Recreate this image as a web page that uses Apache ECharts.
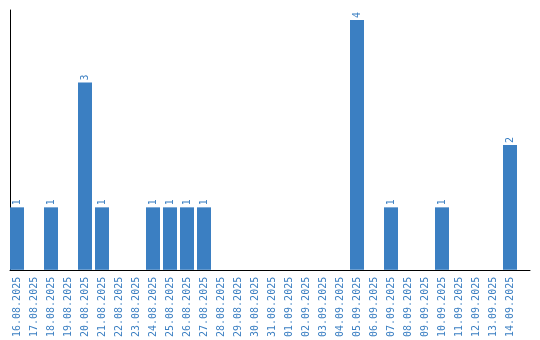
<!DOCTYPE html>
<html><head><meta charset="utf-8">
<script src="https://cdn.jsdelivr.net/npm/echarts@6/dist/echarts.min.js"></script>
<style>html,body{margin:0;padding:0;background:#fff}#c{width:540px;height:340px}</style>
</head><body><div id="c"></div>
<script>
var categories = ["16.08.2025","17.08.2025","18.08.2025","19.08.2025","20.08.2025","21.08.2025","22.08.2025","23.08.2025","24.08.2025","25.08.2025","26.08.2025","27.08.2025","28.08.2025","29.08.2025","30.08.2025","31.08.2025","01.09.2025","02.09.2025","03.09.2025","04.09.2025","05.09.2025","06.09.2025","07.09.2025","08.09.2025","09.09.2025","10.09.2025","11.09.2025","12.09.2025","13.09.2025","14.09.2025"];
var values = [1,0,1,0,3,1,0,0,1,1,1,1,0,0,0,0,0,0,0,0,4,0,1,0,0,1,0,0,0,2];

var blue = '#3b7fc2';
var font = 'DejaVu Sans Mono, monospace';
var chart = echarts.init(document.getElementById('c'), null, {renderer:'canvas'});
chart.setOption({
  animation:false,
  grid:[
    {left:8.5, width:510, top:10, height:260},
    {left:10, right:10, top:10, bottom:70}
  ],
  xAxis:[
    {type:'category', gridIndex:0, data:categories,
     axisLine:{show:false}, axisTick:{show:false},
     axisLabel:{interval:0, rotate:90, color:blue, fontFamily:font, fontSize:10, margin:7}},
    {type:'value', gridIndex:1, min:0, max:1, axisLine:{show:true, lineStyle:{color:'#000', width:1}},
     axisTick:{show:false}, axisLabel:{show:false}, splitLine:{show:false}}
  ],
  yAxis:[
    {type:'value', gridIndex:0, min:0, max:4.16, show:false},
    {type:'value', gridIndex:1, min:0, max:1, axisLine:{show:true, lineStyle:{color:'#000', width:1}},
     axisTick:{show:false}, axisLabel:{show:false}, splitLine:{show:false}}
  ],
  series:[{
    type:'bar', xAxisIndex:0, yAxisIndex:0, data:values, barWidth:14,
    itemStyle:{color:blue},
    label:{show:true, position:'top', rotate:90, align:'left', verticalAlign:'middle', distance:2,
      color:blue, fontFamily:font, fontSize:10,
      formatter:function(p){return p.value ? String(p.value) : '';}}
  }]
});
</script></body></html>
